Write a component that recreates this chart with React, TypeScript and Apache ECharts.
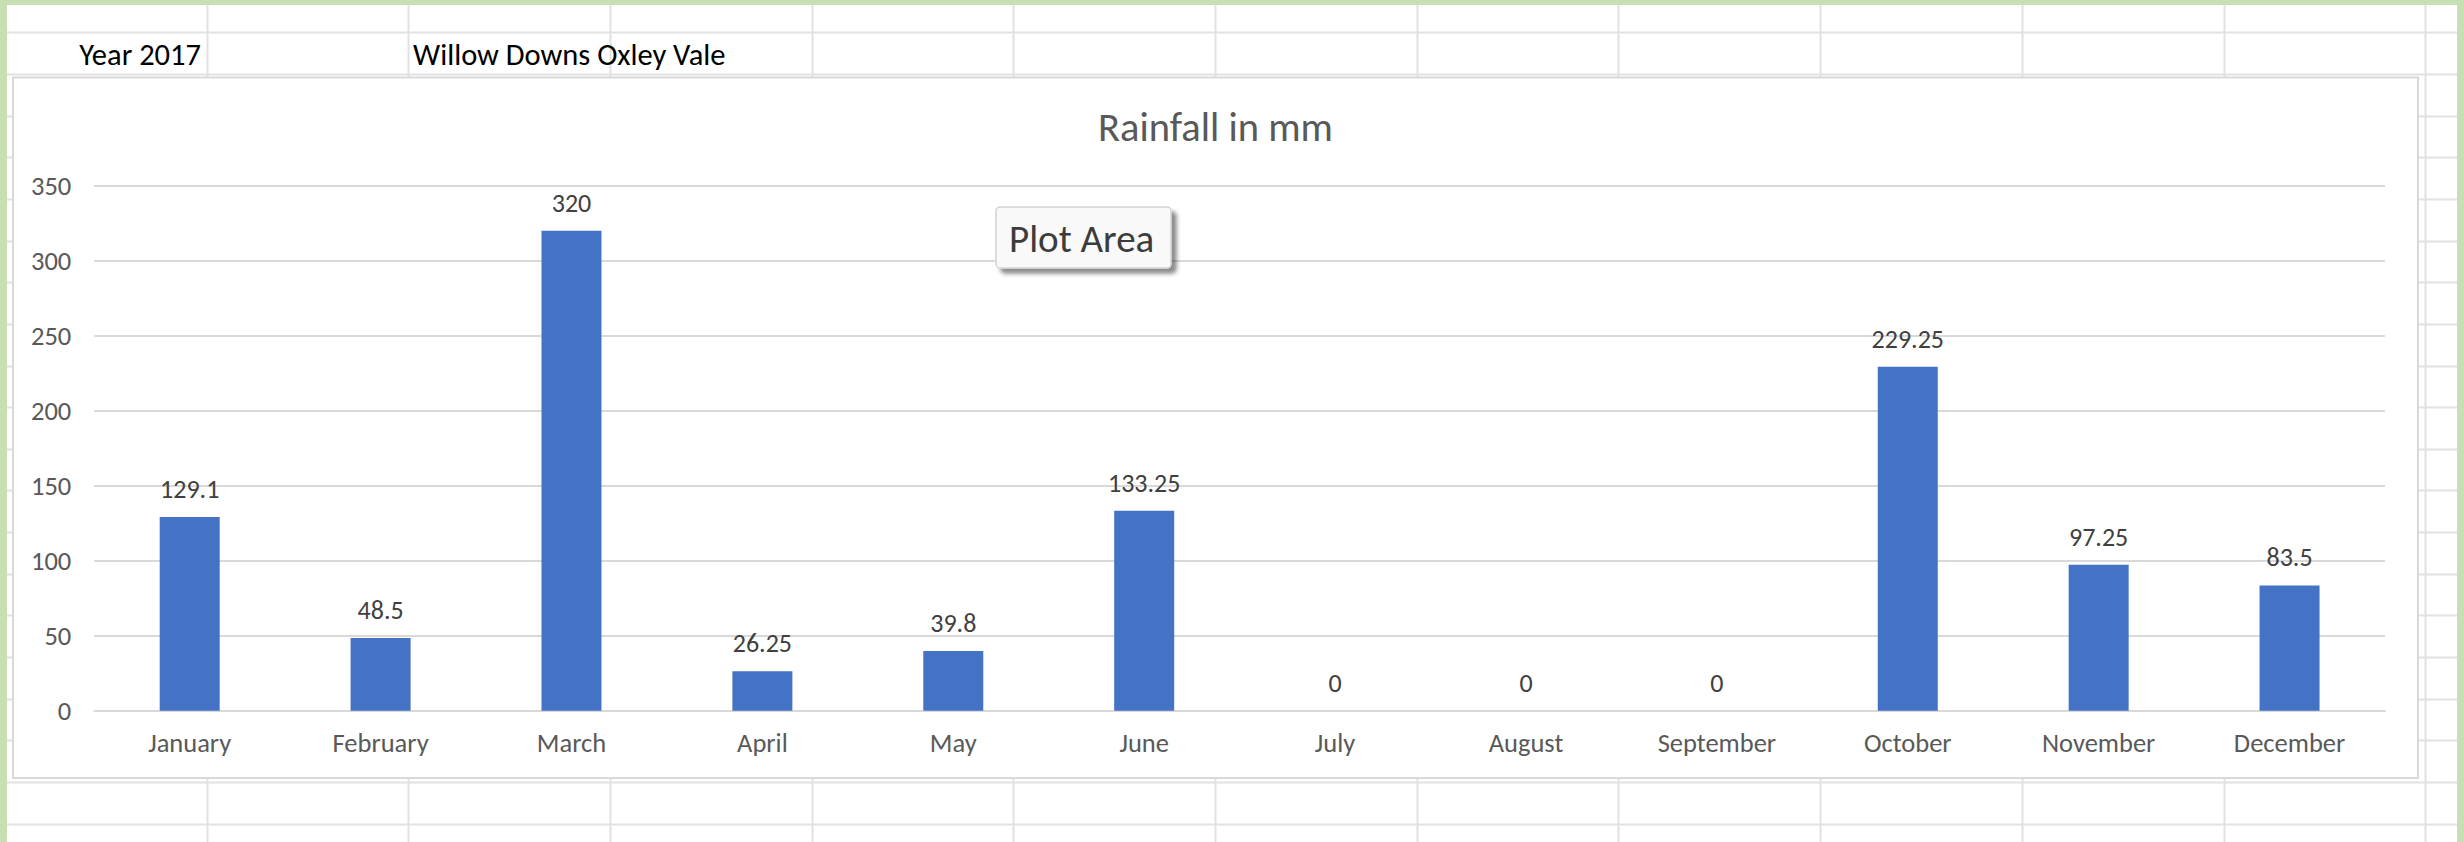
import React, { useEffect, useRef } from "react";
import * as echarts from "echarts";

const categories = [
  "January", "February", "March", "April", "May", "June",
  "July", "August", "September", "October", "November", "December",
];
const rainfall = [129.1, 48.5, 320, 26.25, 39.8, 133.25, 0, 0, 0, 229.25, 97.25, 83.5];
const yMin = 0;
const yMax = 350;
const yInterval = 50;
const chartTitle = "Rainfall in mm";
const cellYear = "Year 2017";
const cellPlace = "Willow Downs Oxley Vale";
const hoverLabel = "Plot Area";

const FONT = "Calibri, Carlito, Lato, sans-serif";
const W = 2464;
const H = 842;

function buildSheet(): any[] {
  const els: any[] = [];
  const lineColor = "#E1E1E1";
  for (let k = 0; k < 20; k++) {
    const y = Math.round(32.3 + 41.65 * k) + 0.5;
    els.push({
      type: "line", z: -20, silent: true,
      shape: { x1: 7, y1: y, x2: W - 7, y2: y },
      style: { stroke: lineColor, lineWidth: 2 },
    });
  }
  for (let k = 0; k < 12; k++) {
    const x = Math.round(206.6 + 201.7 * k) + 0.5;
    els.push({
      type: "line", z: -20, silent: true,
      shape: { x1: x, y1: 5, x2: x, y2: H },
      style: { stroke: lineColor, lineWidth: 2 },
    });
  }
  const green = "#C6E0B4";
  els.push({ type: "rect", z: -15, silent: true, shape: { x: 0, y: 0, width: 7, height: H }, style: { fill: green } });
  els.push({ type: "rect", z: -15, silent: true, shape: { x: 0, y: 0, width: W, height: 5 }, style: { fill: green } });
  els.push({ type: "rect", z: -15, silent: true, shape: { x: W - 7, y: 0, width: 7, height: H }, style: { fill: green } });
  // chart area box
  els.push({
    type: "rect", z: -10, silent: true,
    shape: { x: 13, y: 77.5, width: 2405, height: 700.5 },
    style: { fill: "#FFFFFF", stroke: "#D9D9D9", lineWidth: 2 },
  });
  els.push({
    type: "text", z: -5, silent: true, x: 201, y: 54,
    style: { text: cellYear, align: "right", verticalAlign: "middle", fontSize: 30.5, fontFamily: FONT, fill: "#000000" },
  });
  els.push({
    type: "text", z: -5, silent: true, x: 413, y: 54,
    style: { text: cellPlace, align: "left", verticalAlign: "middle", fontSize: 30.5, fontFamily: FONT, fill: "#000000" },
  });
  // chart title
  els.push({
    type: "text", z: 10, silent: true, x: 1215.5, y: 127,
    style: { text: chartTitle, align: "center", verticalAlign: "middle", fontSize: 40.5, fontFamily: FONT, fill: "#595959" },
  });
  // "Plot Area" hover box
  els.push({
    type: "rect", z: 50, silent: true,
    shape: { x: 996, y: 207, width: 175, height: 61, r: 4 },
    style: {
      fill: "#F9F9F9", stroke: "#D2D2D2", lineWidth: 1.5,
      shadowColor: "rgba(0,0,0,0.45)", shadowBlur: 4, shadowOffsetX: 5, shadowOffsetY: 5,
    },
  });
  els.push({
    type: "text", z: 51, silent: true, x: 1009, y: 238,
    style: { text: hoverLabel, align: "left", verticalAlign: "middle", fontSize: 39, fontFamily: FONT, fill: "#3C3C3C" },
  });
  return els;
}

export default function App() {
  const ref = useRef<HTMLDivElement>(null);
  useEffect(() => {
    if (!ref.current) return;
    const chart = echarts.init(ref.current, null, { renderer: "svg" });
    chart.setOption({
      animation: false,
      backgroundColor: "#FFFFFF",
      textStyle: { fontFamily: FONT },
      grid: { left: 94.25, top: 185.7, width: 2290.75, height: 525, containLabel: false },
      xAxis: {
        type: "category",
        data: categories,
        axisTick: { show: false },
        axisLine: { lineStyle: { color: "#D9D9D9", width: 2 } },
        axisLabel: { interval: 0, color: "#595959", fontSize: 26.5, margin: 19, fontFamily: FONT },
      },
      yAxis: {
        type: "value",
        min: yMin,
        max: yMax,
        interval: yInterval,
        axisLine: { show: false },
        axisTick: { show: false },
        axisLabel: { color: "#595959", fontSize: 26.5, margin: 23, fontFamily: FONT },
        splitLine: { lineStyle: { color: "#D9D9D9", width: 2 } },
      },
      series: [
        {
          type: "bar",
          data: rainfall,
          barWidth: 60,
          itemStyle: { color: "#4472C4" },
          label: {
            show: true,
            position: "top",
            distance: 15,
            color: "#404040",
            fontSize: 26,
            fontFamily: FONT,
          },
        },
      ],
      graphic: { elements: buildSheet() },
    });
    return () => chart.dispose();
  }, []);
  return (
    <div
      ref={ref}
      style={{ position: "fixed", left: 0, top: 0, width: W, height: H, background: "#fff" }}
    />
  );
}
